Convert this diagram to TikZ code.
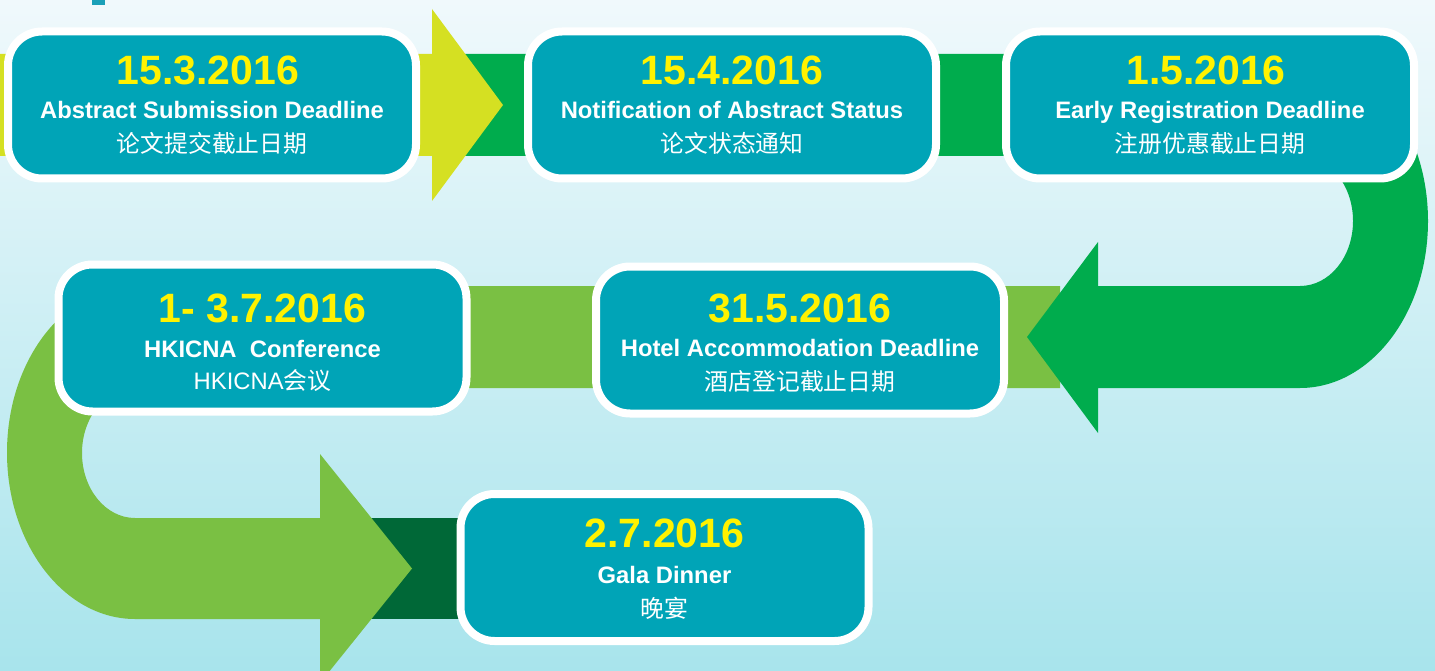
\documentclass[tikz,border=0pt]{standalone}
\usepackage{fontspec}
\setmainfont{Liberation Sans}
\newfontfamily\cjk{Noto Sans CJK SC}
\usetikzlibrary{calc}
\definecolor{bgtop}{RGB}{240,249,252}
\definecolor{bgbot}{RGB}{168,228,236}
\definecolor{boxteal}{RGB}{0,164,183}
\definecolor{dateyellow}{RGB}{255,242,0}
\definecolor{arrowyellow}{RGB}{213,224,34}
\definecolor{arrowgreen}{RGB}{0,172,77}
\definecolor{lightgreen}{RGB}{122,192,67}
\definecolor{darkgreen}{RGB}{0,104,55}
\definecolor{marker}{RGB}{26,160,184}
\begin{document}
\begin{tikzpicture}[x=1pt,y=-1pt,
  box/.style={draw=white, line width=8pt, fill=boxteal, rounded corners=34pt,
    minimum width=408pt, minimum height=147pt, inner sep=0pt},
  datet/.style={font=\bfseries\fontsize{41}{41}\selectfont, text=dateyellow, anchor=base, inner sep=0pt},
  titlet/.style={font=\bfseries\fontsize{23.8}{24}\selectfont, text=white, anchor=base, inner sep=0pt},
  cnt/.style={font=\fontsize{23.8}{24}\selectfont, text=white, anchor=base, inner sep=0pt}]
\useasboundingbox (0,0) rectangle (1435,671);
\fill[top color=bgtop, bottom color=bgbot] (0,0) rectangle (1435,671);
\fill[marker] (92,0) rectangle (105,5);
% dark green band (row 3)
\fill[darkgreen] (370,518) rectangle (480,619);
% light green U-turn arrow
\fill[lightgreen] (1060,286) -- (135,286)
  .. controls (64.3,286) and (7,360.5) .. (7,452.5)
  .. controls (7,544.5) and (64.3,619) .. (135,619)
  -- (320,619) -- (320,683) -- (412,568.5) -- (320,454) -- (320,518) -- (135,518)
  .. controls (105.7,518) and (82,488.9) .. (82,453)
  .. controls (82,417.1) and (105.7,388) .. (135,388)
  -- (1060,388) -- cycle;
% green U-turn arrow
\fill[arrowgreen] (440,54) -- (1300,54)
  .. controls (1370.7,54) and (1428,128.8) .. (1428,221)
  .. controls (1428,313.2) and (1370.7,388) .. (1300,388)
  -- (1098,388) -- (1098,433) -- (1027,337) -- (1098,242) -- (1098,286) -- (1300,286)
  .. controls (1329.3,286) and (1353,257.1) .. (1353,221)
  .. controls (1353,184.9) and (1329.3,156) .. (1300,156)
  -- (440,156) -- cycle;
% yellow arrow
\fill[arrowyellow] (-5,54) -- (432,54) -- (432,9) -- (503,105) -- (432,201) -- (432,156) -- (-5,156) -- cycle;
% boxes
\node[box] (b1) at (212,105) {};
\node[box] (b2) at (732,105) {};
\node[box] (b3) at (1210,105) {};
\node[box] (b4) at (262.5,338) {};
\node[box] (b5) at (800,340) {};
\node[box] (b6) at (664.5,567.5) {};
% texts
\node[datet] (d1) at ($(b1)+(-4,-20)$) {15.3.2016};
\node[titlet] (t1) at ($(b1)+(0,14)$) {Abstract Submission Deadline};
\node[cnt] (c1) at ($(b1)+(0,48)$) {\cjk 论文提交截止日期};
\node[datet] (d2) at ($(b2)+(0,-20)$) {15.4.2016};
\node[titlet] (t2) at ($(b2)+(0,14)$) {Notification of Abstract Status};
\node[cnt] (c2) at ($(b2)+(0,48)$) {\cjk 论文状态通知};
\node[datet] (d3) at ($(b3)+(-4,-20)$) {1.5.2016};
\node[titlet] (t3) at ($(b3)+(0,14)$) {Early Registration Deadline};
\node[cnt] (c3) at ($(b3)+(0,48)$) {\cjk 注册优惠截止日期};
\node[datet] (d4) at ($(b4)+(0,-16)$) {1- 3.7.2016};
\node[titlet] (t4) at ($(b4)+(0,19)$) {HKICNA\ \ Conference};
\node[cnt] (c4) at ($(b4)+(0,51)$) {HKICNA{\cjk 会议}};
\node[datet] (d5) at ($(b5)+(0,-18)$) {31.5.2016};
\node[titlet] (t5) at ($(b5)+(0,16)$) {Hotel Accommodation Deadline};
\node[cnt] (c5) at ($(b5)+(0,50)$) {\cjk 酒店登记截止日期};
\node[datet] (d6) at ($(b6)+(0,-20)$) {2.7.2016};
\node[titlet] (t6) at ($(b6)+(0,16)$) {Gala Dinner};
\node[cnt] (c6) at ($(b6)+(0,50)$) {\cjk 晚宴};
\end{tikzpicture}
\end{document}
